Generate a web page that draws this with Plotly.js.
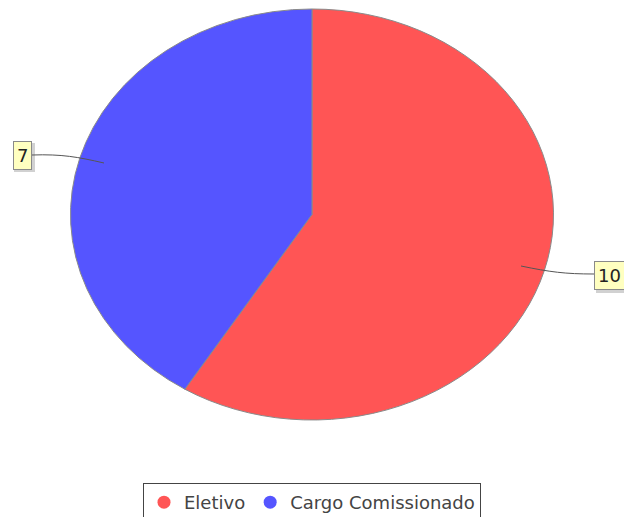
<!DOCTYPE html>
<html>
<head>
<meta charset="utf-8">
<script src="https://cdn.plot.ly/plotly-3.0.1.min.js"></script>
<style>
  html, body { margin: 0; padding: 0; background: #fff; }
  #chart { width: 624px; height: 517px; }
</style>
</head>
<body>
<div id="chart"></div>
<script>
// Composition of the group: elected vs. commissioned posts
const categories = ['Eletivo', 'Cargo Comissionado'];
const counts = [10, 7];
const sliceColors = ['#FF5555', '#5555FF'];

const W = 624, H = 517;
// horizontal stretch so the pie is drawn as an ellipse
const stretchX = 241.5 / 205.5;

const pie = {
  type: 'pie',
  labels: categories,
  values: counts,
  sort: false,
  direction: 'clockwise',
  rotation: 0,
  textinfo: 'none',
  hoverinfo: 'label+value',
  showlegend: false,
  marker: { colors: sliceColors, line: { color: '#8a8a8a', width: 1 } },
  domain: { x: [0, 1], y: [1 - 420 / H, 1 - 9 / H] }
};

// legend entries drawn with round markers
const legendItems = categories.map((c, i) => ({
  type: 'scatter',
  mode: 'markers',
  x: [null], y: [null],
  name: c,
  marker: { symbol: 'circle', size: 13, color: sliceColors[i] },
  showlegend: true,
  hoverinfo: 'skip'
}));

// value labels in pale yellow boxes, with leader lines into the slices
const labelBoxes = [
  { x: 22, y: 155, xanchor: 'center' },   // Cargo Comissionado
  { x: 594, y: 275, xanchor: 'left' }     // Eletivo
];
const labelOrder = [1, 0];

const annotations = labelBoxes.map((b, k) => ({
  xref: 'x', yref: 'y',
  x: b.x, y: b.y,
  xanchor: b.xanchor, yanchor: 'middle',
  text: String(counts[labelOrder[k]]),
  showarrow: false,
  font: { family: 'DejaVu Sans, sans-serif', size: 18, color: '#222' },
  bgcolor: '#FFFFC0',
  bordercolor: '#8a8a8a',
  borderwidth: 1,
  borderpad: 3
}));

const shapes = [
  { type: 'rect', xref: 'x', yref: 'y', x0: 14, x1: 35, y0: 143, y1: 172,
    fillcolor: 'rgba(0,0,0,0.18)', line: { width: 0 }, layer: 'below' },
  { type: 'rect', xref: 'x', yref: 'y', x0: 596, x1: 630, y0: 262, y1: 293,
    fillcolor: 'rgba(0,0,0,0.18)', line: { width: 0 }, layer: 'below' },
  { type: 'path', xref: 'x', yref: 'y', layer: 'above',
    path: 'M 32 155 C 62 154 78 157 104 163', line: { color: '#555', width: 1 } },
  { type: 'path', xref: 'x', yref: 'y', layer: 'above',
    path: 'M 594 274 C 565 274 550 272 521 266', line: { color: '#555', width: 1 } }
];

const layout = {
  width: W, height: H,
  margin: { l: 0, r: 0, t: 0, b: 0, autoexpand: false },
  paper_bgcolor: '#fff',
  plot_bgcolor: 'rgba(0,0,0,0)',
  xaxis: { visible: false, range: [0, W], fixedrange: true },
  yaxis: { visible: false, range: [H, 0], fixedrange: true },
  showlegend: true,
  legend: {
    orientation: 'h',
    x: 0.5, xanchor: 'center',
    y: 1 - 483 / H, yanchor: 'top',
    bordercolor: '#444', borderwidth: 1,
    bgcolor: '#fff',
    font: { family: 'DejaVu Sans, sans-serif', size: 18, color: '#444' },
    itemwidth: 30
  },
  annotations: annotations,
  shapes: shapes
};

function stretchPie() {
  const g = document.querySelector('#chart .pielayer');
  if (!g) return;
  const cx = W / 2;
  g.setAttribute('transform',
    'translate(' + cx + ',0) scale(' + stretchX + ',1) translate(' + (-cx) + ',0)');
  g.querySelectorAll('path').forEach(p => p.setAttribute('vector-effect', 'non-scaling-stroke'));
}

const gd = document.getElementById('chart');
Plotly.newPlot(gd, [pie].concat(legendItems), layout, { displayModeBar: false, staticPlot: true })
  .then(() => { stretchPie(); gd.on('plotly_afterplot', stretchPie); });
</script>
</body>
</html>
